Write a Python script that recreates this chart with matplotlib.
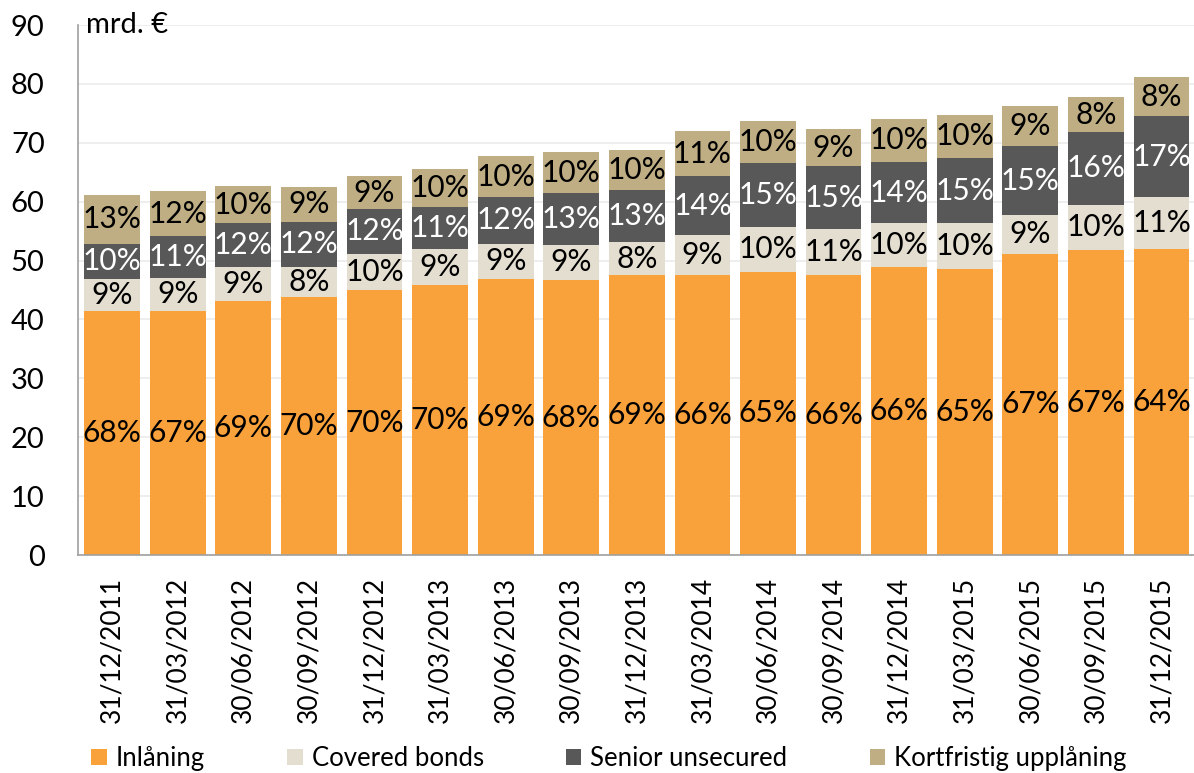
import matplotlib.pyplot as plt
import numpy as np

plt.rcParams['font.family'] = ['Lato', 'DejaVu Sans']

# quarter-end dates
dates = ["31/12/2011", "31/03/2012", "30/06/2012", "30/09/2012", "31/12/2012",
         "31/03/2013", "30/06/2013", "30/09/2013", "31/12/2013", "31/03/2014",
         "30/06/2014", "30/09/2014", "31/12/2014", "31/03/2015", "30/06/2015",
         "30/09/2015", "31/12/2015"]

# billions of euro
inlaning = [41.5, 41.5, 43.2, 43.8, 45.0, 45.8, 46.9, 46.7, 47.5, 47.5,
            48.1, 47.6, 48.9, 48.6, 51.2, 51.8, 52.0]
covered = [5.4, 5.6, 5.7, 5.1, 6.2, 6.2, 6.0, 6.0, 5.7, 6.8,
           7.6, 7.8, 7.4, 7.7, 6.6, 7.7, 8.8]
senior = [6.0, 7.0, 7.4, 7.7, 7.6, 7.1, 7.9, 8.7, 8.8, 10.0,
          10.8, 10.6, 10.5, 11.1, 11.6, 12.3, 13.7]
kortfristig = [8.2, 7.7, 6.3, 5.9, 5.5, 6.5, 6.9, 7.1, 6.8, 7.7,
               7.2, 6.3, 7.2, 7.4, 6.8, 6.0, 6.6]

series = [
    ("Inlåning", inlaning, "#F9A23B", "black"),
    ("Covered bonds", covered, "#E4DED0", "black"),
    ("Senior unsecured", senior, "#585858", "white"),
    ("Kortfristig upplåning", kortfristig, "#BFAE84", "black"),
]

x = np.arange(len(dates))
totals = np.sum([inlaning, covered, senior, kortfristig], axis=0)

fig = plt.figure(figsize=(11.94, 7.73), dpi=100)
ax = fig.add_axes([0.0653, 0.282, 0.935, 0.6856])

bottom = np.zeros(len(dates))
for name, vals, color, txtcolor in series:
    vals = np.array(vals)
    ax.bar(x, vals, width=0.85, bottom=bottom, color=color, label=name, zorder=2)
    for i in range(len(x)):
        pct = vals[i] / totals[i] * 100
        ax.text(x[i], bottom[i] + vals[i] / 2, f"{pct:.0f}%", ha="center", va="center",
                color=txtcolor, fontsize=21.5, zorder=3)
    bottom += vals

ax.set_xlim(-0.52, len(dates) - 0.5)
ax.set_ylim(0, 90)
ax.set_yticks(range(0, 91, 10))
ax.set_xticks(x)
ax.set_xticklabels(dates, rotation=90, fontsize=19)
ax.tick_params(axis="y", labelsize=21, length=0, pad=24)
ax.tick_params(axis="x", length=0, pad=16)
ax.grid(axis="y", color="#EBEBEB", lw=1.2, zorder=0)
for s in ["top", "right"]:
    ax.spines[s].set_visible(False)
for s in ["left", "bottom"]:
    ax.spines[s].set_color("#A0A0A0")
    ax.spines[s].set_linewidth(1.2)

ax.text(0.007, 1.0, "mrd. €", transform=ax.transAxes, ha="left", va="center", fontsize=21)

fig.legend(loc="center", bbox_to_anchor=(0.51, 0.019), ncol=4, frameon=False,
           fontsize=18.5, handlelength=0.6, handleheight=0.6, handletextpad=0.35,
           columnspacing=3.2, borderaxespad=0)

fig.savefig("out.png", dpi=100)
